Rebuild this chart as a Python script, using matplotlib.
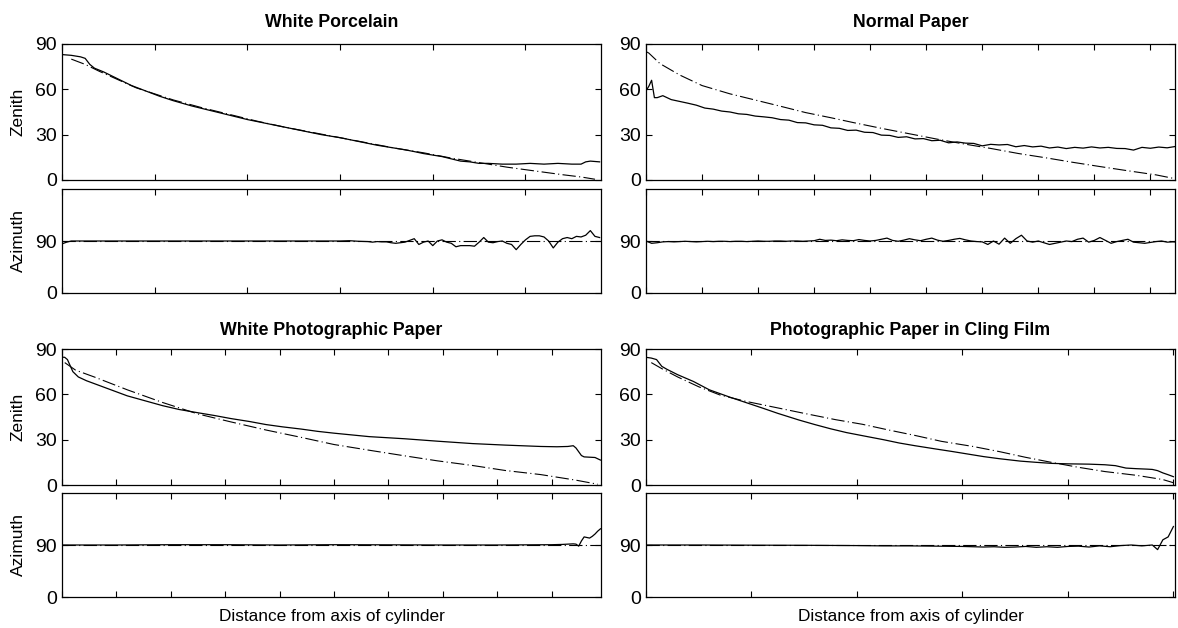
import numpy as np
import matplotlib
matplotlib.use('Agg')
import matplotlib.pyplot as plt

plt.rcParams['font.family'] = ['Liberation Sans', 'DejaVu Sans']

titles = ['White Porcelain', 'Normal Paper',
          'White Photographic Paper', 'Photographic Paper in Cling Film']
x_label = 'Distance from axis of cylinder'
zen_ticks = [0, 30, 60, 90]
az_ticks = [0, 90]
az_model = 90

# White Porcelain
tl_zen_x = [0, 2, 4, 5, 6, 7, 9, 12, 15, 18, 21, 24, 28, 32, 36, 40, 44, 48, 52, 56,
            60, 64, 68, 70, 72, 74, 76, 78, 80, 82, 84, 86, 88, 90, 92, 95, 98, 101,
            104, 107, 110, 112, 113, 114, 116]
tl_zen = [83, 82.5, 81.5, 80.5, 76.5, 74, 71.5, 67, 62.5, 59, 55.5, 52.5, 49, 46, 43,
          40, 37.5, 35, 32.5, 30, 28, 25.5, 23, 22, 21, 20, 18.8, 17.5, 16.5, 15.5, 14,
          12.5, 12, 11, 11, 10.5, 10.5, 11, 10.5, 11, 10.5, 10.5, 12, 12.5, 12]
tl_mod_x = [2, 5, 8, 12, 16, 20, 24, 30, 36, 42, 48, 54, 60, 66, 72, 78, 84, 90, 96,
            102, 108, 112, 115]
tl_mod = [80, 76.5, 72, 66.5, 61, 57, 53, 48, 43.5, 39, 35, 31.5, 28, 24.5, 21, 18,
          14.5, 11.5, 8.5, 6, 3.5, 2, 0.5]
tl_az_x = [0, 1, 2, 10, 20, 30, 40, 50, 60, 62, 64, 66] + list(range(67, 117))
tl_az = [85, 88, 90, 90, 90, 90, 90, 90, 90, 90.5, 89.5, 89,
         88, 89, 88.5, 88.5, 87, 86, 87, 88, 91, 94,
         84, 88, 90, 82, 90, 92, 88, 86, 80, 82,
         82, 82, 81, 88, 96, 88, 87, 89, 90, 86,
         84, 75, 84, 92, 98, 99, 99, 97, 90, 78,
         88, 94, 96, 94, 98, 97, 100, 108, 98, 96]

# Normal Paper
tr_zen_x = [0, 1, 2, 3, 4] + list(range(6, 190, 3))
tr_zen = [59, 62, 66, 54.5, 54.5,
          55.8, 53.2, 52, 50.8, 49.5, 47.6, 46.9, 45.6, 45.0, 43.8, 43.4, 42.3, 41.8,
          41.2, 40.0, 39.6, 38.0, 37.8, 36.5, 36.2, 34.5, 34.2, 32.8, 33.0, 31.6, 31.4,
          29.7, 29.5, 28.2, 28.6, 27.2, 27.4, 26.0, 26.3, 24.6, 25.2, 24.4, 24.2, 22.6,
          23.6, 23.2, 23.5, 22.0, 22.8, 21.9, 22.4, 21.2, 21.8, 20.8, 21.6, 21.1, 21.9,
          21.2, 21.6, 20.9, 20.8, 19.8, 21.6, 21.0, 21.8, 21.3, 22.2]
tr_mod_x = [0, 1, 5, 12, 20, 30, 41, 48, 57, 66, 74, 84, 94, 104, 113, 123, 133, 143,
            152, 162, 172, 182, 189]
tr_mod = [85, 84, 77, 69.5, 62.5, 57, 52, 48.8, 44.6, 41.2, 38, 34.2, 30.6, 27, 24,
          20.9, 17.5, 14.6, 11.8, 8.9, 6.1, 3.4, 0.8]
tr_az_x = list(range(0, 191, 2))
tr_az = [90, 86, 87, 88.5, 89, 88.5, 89, 89.5, 89, 88.5,
         89, 89.5, 89, 89.5, 89.5, 89, 89.5, 89.5, 89, 89.5,
         90, 89.5, 89.5, 90, 90, 89.5, 90, 90, 89.5, 90,
         90.5, 93, 91, 91.5, 90.5, 92, 91, 90.5, 92.5, 91,
         90, 91, 93, 95, 91, 89.5, 91.5, 94, 92, 90.5,
         93, 95, 91.5, 89.5, 91, 93, 94.5, 92, 90, 89,
         88.5, 84, 90, 84.5, 95, 86, 94, 100, 90, 88,
         90, 87, 84, 86, 88, 90, 89, 93, 95, 88,
         91, 96, 91, 86, 89, 91, 93, 88, 87, 86,
         87.5, 89, 90, 88, 88.5, 88]

# White Photographic Paper
bl_zen_x = [0, 1, 2, 3, 4, 6, 9, 12, 15, 18, 21, 24, 30, 37, 43, 50, 56, 62, 69, 75,
            81, 88, 94, 100, 113, 126, 138, 151, 163, 176, 182, 186, 188, 189, 190, 191,
            192, 194, 196, 198]
bl_zen = [84.6, 84.5, 83, 79, 75, 71.5, 69, 67, 65, 63, 61, 59, 56, 52.5, 50, 47.8,
          46, 44, 42, 40, 38.5, 37, 35.5, 34.3, 32, 30.6, 29, 27.4, 26.4, 25.5, 25.3,
          25.5, 26, 24.5, 22, 19.5, 18.6, 18.4, 18.2, 16.5]
bl_mod_x = [1, 5, 12, 24, 37, 50, 62, 75, 88, 100, 113, 126, 138, 151, 163, 176, 189,
            197]
bl_mod = [81, 76, 71.4, 63, 54.6, 47, 41.8, 36.4, 31.5, 26.8, 23, 19.3, 16, 12.9, 9.6,
          6.9, 3.2, 0.5]
bl_az_x = [0, 20, 40, 60, 80, 100, 120, 140, 160, 180, 184, 186, 188, 189, 190, 191,
           192, 193, 194, 195, 196, 197, 198]
bl_az = [90, 90, 90.5, 90.5, 90, 90.5, 90.3, 90, 90, 90.5, 91, 91.5, 92, 91.5, 88, 97,
         104, 103, 102, 105, 109, 114, 118]

# Photographic Paper in Cling Film
br_zen_x = [0, 1, 2, 3, 4, 6, 9, 12, 16, 19, 22, 25, 29, 32, 35, 38, 42, 45, 48, 51,
            55, 58, 61, 64, 67, 71, 74, 77, 80, 84, 87, 89, 91, 93, 95, 96, 97, 98, 99,
            100]
br_zen = [84.5, 84, 83, 78.5, 76.5, 73, 68.5, 63, 58, 54.5, 51, 47.4, 43, 40, 37.2,
          34.7, 32, 30, 27.8, 26, 23.8, 22.2, 20.5, 18.8, 17.4, 15.8, 15, 14.3, 14, 13.8,
          13.4, 12.8, 11.2, 10.8, 10.5, 10.3, 9.5, 8, 6.8, 5.5]
br_mod_x = [1, 3, 6, 10, 14, 19, 25, 30, 36, 41, 46, 51, 56, 62, 67, 72, 77, 82, 87,
            93, 98, 100]
br_mod = [81, 77, 71.5, 65, 59.6, 55.3, 51, 47.4, 43.2, 40.2, 36.4, 32.8, 28.9, 25.5,
          22.1, 18.3, 14.9, 11.7, 8.9, 6.4, 3.6, 1.5]
br_az_x = [0, 10, 20, 30, 40, 45, 50, 55, 60, 62, 64, 66, 68, 70, 72, 74, 76, 78, 80,
           82, 84, 86, 88, 90, 92, 94, 96, 97, 98, 99, 100]
br_az = [90, 90, 89.7, 89.5, 89, 88.5, 88.5, 88, 87.5, 87, 86.5, 87, 86, 86.5, 87.5,
         86, 87, 86, 87.5, 88, 86.5, 88.5, 87, 89, 90, 88.5, 90, 82, 99, 104, 122]

panels = [
    (tl_zen_x, tl_zen, tl_mod_x, tl_mod, tl_az_x, tl_az, 116.3),
    (tr_zen_x, tr_zen, tr_mod_x, tr_mod, tr_az_x, tr_az, 188.8),
    (bl_zen_x, bl_zen, bl_mod_x, bl_mod, bl_az_x, bl_az, 198.2),
    (br_zen_x, br_zen, br_mod_x, br_mod, br_az_x, br_az, 100.3),
]

# axes boxes in pixels of the 1178x628 image
lefts = [62, 646, 62, 646]
rights = [601, 1175, 601, 1175]
rows = [(44, 180, 189, 293), (44, 180, 189, 293), (349, 485, 493, 597), (349, 485, 493, 597)]
title_pads = [12.5, 12.5, 10, 10]

W, H = 1178, 628
fig = plt.figure(figsize=(W / 100, H / 100), dpi=100)
dashdot = (0, (12, 3, 1, 3))


def style(ax, xmax):
    ax.set_xlim(0, xmax)
    ax.set_xticks(np.arange(0, xmax + 0.01, 20))
    ax.set_xticklabels([])
    ax.tick_params(direction='in', top=True, right=True, length=4.5, width=0.8,
                   labelsize=14, pad=3.5)
    for s in ax.spines.values():
        s.set_linewidth(0.9)


for i, (zx, zv, mx, mv, ax_x, av, xmax) in enumerate(panels):
    l, r = lefts[i], rights[i]
    zt, zb, at, ab = rows[i]
    axz = fig.add_axes([l / W, 1 - zb / H, (r - l) / W, (zb - zt) / H])
    axa = fig.add_axes([l / W, 1 - ab / H, (r - l) / W, (ab - at) / H])

    axz.plot(zx, zv, color='k', lw=0.9)
    axz.plot(mx, mv, color='k', lw=0.8, linestyle=dashdot)
    axz.set_ylim(0, 90)
    axz.set_yticks(zen_ticks)
    axz.set_title(titles[i], fontsize=12.8, fontweight='bold', pad=title_pads[i])
    style(axz, xmax)

    axa.plot([0, xmax], [az_model, az_model], color='k', lw=0.8, linestyle=dashdot)
    axa.plot(ax_x, av, color='k', lw=0.9)
    axa.set_ylim(0, 180)
    axa.set_yticks(az_ticks)
    style(axa, xmax)

    if i % 2 == 0:
        axz.set_ylabel('Zenith', fontsize=12.5, labelpad=7)
        axa.set_ylabel('Azimuth', fontsize=12.5, labelpad=7)
    if i >= 2:
        axa.set_xlabel(x_label, fontsize=12.4, labelpad=5)

fig.savefig('out.png', dpi=100)
